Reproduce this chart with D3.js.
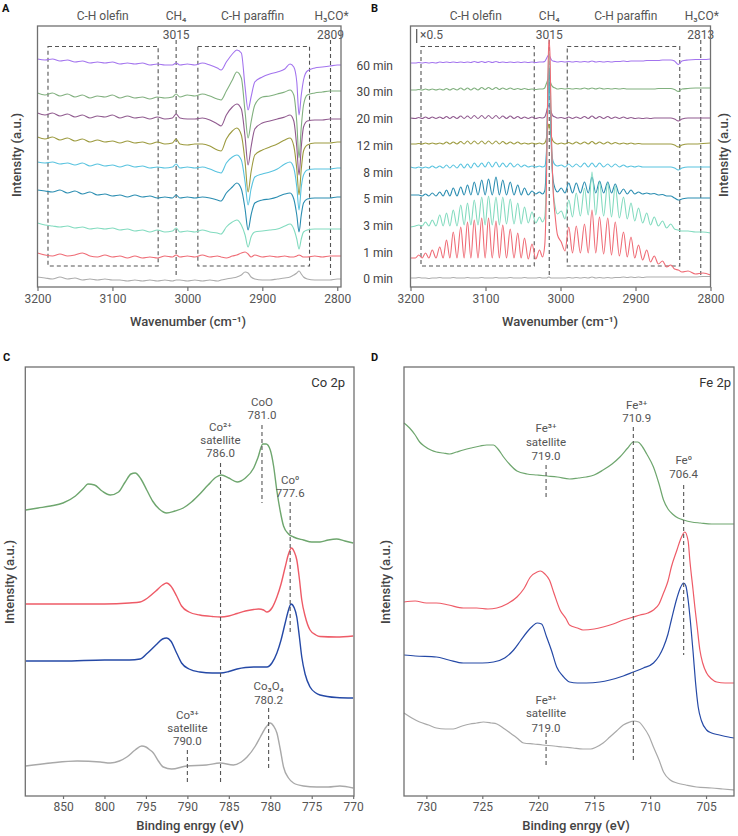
<!DOCTYPE html>
<html><head><meta charset="utf-8">
<script src="https://cdn.jsdelivr.net/npm/d3@7"></script>
<style>body{margin:0;background:#fff;} text{font-family:Roboto,"Noto Sans",sans-serif;}</style>
</head><body><svg id="c" width="738" height="836"></svg>
<script>
// ---------------- DATA ----------------
const timeLabels = ["60 min","30 min","20 min","12 min","8 min","5 min","3 min","1 min","0 min"];
const traceColors = ["#a374ee","#80b07e","#905a8f","#9c9a3e","#58c3df","#2a8db1","#82dbbf","#ef6b75","#acacac"];

// Panel A (difference spectra), wavenumber grid and intensities
const aWn = [3200,3190,3180,3170,3160,3150,3140,3130,3120,3110,3100,3090,3080,3070,3060,3050,3040,3030,3020,3015,3010,3000,2990,2980,2970,2960,2955,2948,2940,2934,2928,2923,2919,2915,2910,2900,2890,2880,2870,2863,2858,2854,2851,2848,2845,2840,2830,2820,2810,2800,2795];
const a60 = [228,227,228,226,227,225,226,224,225,224,225,223,224,223,224,222,223,222,222,224,222,223,222,224,222,219,217,225,233,237,234,200,177,190,205,210,213,215,218,223,220,205,172,192,207,216,219,220,221,222,222];
const a30 = [194,192,194,191,193,190,192,189,191,190,192,189,191,189,190,188,190,189,190,193,190,192,191,193,191,188,187,196,207,215,209,175,149,165,182,190,191,193,195,197,192,165,129,160,182,192,194,195,196,196,196];
const a20 = [174,172,174,171,173,170,172,169,171,170,172,169,171,169,170,168,170,168,169,173,169,168,168,169,167,163,161,172,180,183,178,150,122,140,158,164,166,168,170,172,166,140,112,140,160,166,167,167,168,168,168];
const a12 = [150,148,150,147,149,146,148,145,147,145,146,144,146,144,145,143,145,143,144,148,143,142,143,143,141,137,136,148,156,159,152,125,95,115,132,137,140,143,147,149,141,118,92,118,136,142,144,144,144,145,145];
const a8  = [125,124,125,123,124,122,124,121,123,121,122,120,122,120,121,119,120,119,120,123,119,120,119,120,118,115,114,124,130,132,127,105,82,98,110,113,115,118,123,125,119,100,77,100,112,117,118,118,118,119,119];
const a5  = [97,96,95,97,94,96,93,95,92,93,91,92,90,92,90,91,89,90,89,92,89,90,89,90,89,87,86,94,100,104,98,78,57,72,84,87,88,90,93,94,88,72,55,72,84,88,89,89,89,90,90];
const a3  = [64,62,61,60,61,59,60,58,59,58,59,57,58,56,57,55,57,55,56,59,55,56,55,57,55,54,53,60,65,67,62,52,40,50,55,56,57,58,61,63,58,48,38,48,55,57,58,58,58,58,58];
const a1  = [34,32,31,33,31,32,34,31,30,32,30,31,29,31,29,30,29,31,30,32,30,31,30,32,30,31,30,29,31,32,34,35,33,30,32,30,31,30,31,30,30,31,32,31,30,30,31,30,31,31,31];
const a0  = [10,9,8,10,8,9,7,8,7,8,7,7,6,7,6,7,6,7,6,7,7,6,7,6,7,6,7,8,9,10,12,15,14,10,8,7,7,8,9,10,12,14,16,13,10,8,7,7,7,8,8];

// Panel B (gas-phase spectra)
const bWn = [3200,3193.5,3189,3184.5,3180,3175.5,3171,3166,3161,3156.5,3152,3147.5,3143,3138,3133,3128.5,3124,3119.5,3115,3110,3105,3100.5,3096,3091,3086,3081.5,3077,3072,3067,3062,3057,3052.5,3048,3043,3038,3033,3028,3024,
 3021,3019,3017,3015.5,3014,3012,3010,3007,3004,
 2999,2994,2989,2984,2979,2973.5,2968,2963,2958,2953,2948,2942.5,2937,2932,2927,2921.5,2916,2911,2906,2901,2896,2890.5,2885,2880,2875,2869.5,2864,2858.5,2853,2848,
 2843,2838,2830,2820,2810,2800];
const b60 = [224,224,224.5,224,224.5,224,224.5,224,225,224.5,225,224.5,225,224.5,225,224.5,225,224.5,225.5,224.5,225.5,224.5,225.5,224.5,225.5,224.5,225,224.5,225,224.5,225,224.5,225,224.5,225,224.5,225,225,
 225.5,228,231,232,230,227,226,225.5,225,
 225.5,225,225.5,225,225.5,225,225.5,225,226,225,225.5,225,225.5,225,225.5,225.5,226,225.5,226,226,226,226,226.5,226.5,226.5,226.5,227,227,227,226,
 222.5,226,227,227.5,227.5,228];
const b30 = [197,197,197.5,197,198,197,198,197,198,197,198.5,197,198.5,197,199,197,199,197,199,197,199.5,197.5,199.5,197.5,199.5,197.5,199,197.5,199,197.5,198.5,197.5,198.5,197.5,198,197.5,198,198,
 199,203,207,208,206,202,200,199,198,
 198.5,198,198.5,198,198.5,198,199,198,199,198,199,198,198.5,198,198.5,198,198.5,198,198,198,198,198,198,198,198,198.5,198.5,198.5,198.5,197.5,
 195.5,198,198.5,199,199,199];
const b20 = [169,168.5,169.5,168.5,170,168.5,170,168.5,170,168.5,170.5,168.5,170.5,168.5,171,168.5,171,168.5,171.5,168.5,171.5,168.5,171.5,168.5,171.5,168.5,171,168.5,171,168.5,170.5,168.5,170,168.5,170,168.5,169.5,169,
 170,174,180,182,179,174,171,170,169,
 169.5,168.5,170,168.5,170,168.5,170.5,168.5,171,168.5,170.5,168.5,170.5,168.5,170,168.5,170,168.5,169.5,168.5,169,168.5,169,168.5,169,169,169,169,169,168,
 166,168,169,169,169,169];
const b12 = [143,143,143.5,143,144,143,144,143,144,143,145,143,145,143,145.5,143,146,143,146,143,146,143,146,143,146,143,145.5,143,145,143,145,143,144,143,144,143,144,143,
 144,148,158,163,158,150,146,144,143,
 144,143,144.5,143,145,143,145,143,145.5,143,145,143,145,143,144.5,143,144,143,144,143,143.5,143,143,143,143,143,143,143,143,142,
 140,142,143,143,143.5,144];
const b8 = [120,119,120,119,120,119,121,119,121,119,122,119,122,119,123,119,123,119,124,120,124,120,125,120,125,120,124,120,124,120,123,120,122,120,121,120,121,120,
 121,132,175,206,188,140,126,122,121,
 122,120,123,120,123,120,124,120,124,120,124,120,123,120,123,120,122,120,121,120,121,120,120,120,120,120,120,120,120,119,
 117,119,120,120,120,120];
const b5 = [92,92,92,91,93,91,94,91,95,91,97,91,99,91,100,92,102,92,105,92,107,92,108,92,110,92,107,92,105,92,102,92,99,92,96,93,95,93,
 96,122,190,222,202,135,108,98,95,
 99,94,104,94,104,94,105,94,110,94,106,94,105,94,103,93,98,93,97,93,95,93,94,93,93.5,92,92.5,91,91,89,
 87,88,89,89,89,89];
const b3 = [60,61,62,61,65,61,67,61,72,61,74,61,77,61,82,62,84,62,87,62,90,62,91,62,90,62,90,63,88,63,84,63,80,64,75,64,70,65,
 70,105,190,238,218,145,100,80,73,
 76,68,87,70,94,71,99,72,115,72,105,71,104,70,101,69,90,68,84,66,79,64,74,62,70,61,66,59,63,58,
 57,56,56,55,55,54];
const b1 = [29,29,32,29,34,29,37,29,40,29,47,29,55,29,60,29,65,29,67,29,69,29,69,29,66,29,62,29,58,29,54,29,49,28,43,28,37,30,
 42,90,200,248,232,150,100,70,52,
 45,36,60,34,61,34,63,34,77,34,70,33,69,32,65,31,55,30,50,29,42,27,37,25,31,23,26,20,22,18,
 17,15,16,13,14,12];
const b0 = [9,9,9.5,9,9,8.5,9,9,9.5,9,9,9,9.5,9,9,9,9.5,9,9,9,9.5,9,9,9,9.5,9,9,9,9.5,9,9,9,9.5,9,9,9,9.5,9,
 9,9,9.5,10,9.5,9,9,9,9,
 9,9,9.5,9,9.5,9,9.5,9,10,9,9.5,9,9.5,9,9.5,9.5,10,9.5,10,9.5,10,9.5,10,10,10,10,10,10,10,10,
 10,10,10,10,10.5,10.5];

const irTicks = [3200,3100,3000,2900,2800];
const aGuides = [{wn:3015,label:"3015"},{wn:2809,label:"2809"}];
const bGuides = [{wn:3015,label:"3015"},{wn:2813,label:"2813"}];
const aBoxes = [[3186,3039],[2986,2837]];
const bBoxes = [[3186,3035],[2991,2841]];

// Panel C (Co 2p XPS)
const cTickValues = [805,800,795,790,785,780,775,770];
const cTickLabels = ["850","800","795","790","785","780","775","770"];
const cGreen = [[809.5,286],[808,288],[806.5,290],[805,293],[803.5,300],[802.5,308],[802,312],[801.2,311],[800.3,305],[799.3,301],[798.3,304],[797.5,314],[796.8,322],[796.3,323],[795.6,317],[794.9,306],[794.2,295],[793.4,287],[792.5,283],[791.5,285],[790.5,288],[789.5,294],[788.5,302],[787.5,311],[786.5,319],[785.9,321],[785,318],[784,314],[783,318],[782,328],[781.5,338],[780.9,352],[780.5,352],[780,346],[779.6,330],[779.2,305],[778.8,285],[778.4,270],[777.8,262],[777.2,259],[776,256],[775,254],[774,254],[773,256],[772,257],[771,255],[770,253]];
const cRed = [[809.5,192],[805,192],[800,192],[797,193],[795.7,194],[794.8,198],[793.8,205],[793,211],[792.5,213],[792,210],[791.3,200],[790.7,190],[789.8,184],[788.5,181],[787,179.5],[786,179],[785,180],[784,182.5],[783,185],[782,186.5],[781.4,187],[780.8,186],[780.4,184],[779.8,188],[779.2,199],[778.7,212],[778.2,229],[777.8,242],[777.45,248],[777.1,244],[776.8,236],[776.5,218],[776.2,196],[775.8,180],[775.2,166],[774.5,161],[774,159.5],[772,159],[770,160]];
const cBlue = [[809.5,135],[805,135],[800,136],[797,136],[795.7,137],[794.8,143],[793.8,151],[793,157],[792.5,158],[792,155],[791.3,143],[790.7,133],[789.8,127],[788.5,124],[787,123],[786,123],[785,124.5],[784,127],[783,128.5],[782,129],[781,129],[780.4,129],[779.8,133],[779.2,143],[778.7,156],[778.2,173],[777.8,186],[777.5,192],[777.1,188],[776.8,179],[776.5,160],[776.2,139],[775.8,122],[775.2,109],[774.5,103],[774,101],[772,98.5],[770,98]];
const cGray = [[809.5,30],[806.5,33],[803.3,35],[800.5,34],[799.3,33],[798.2,35],[797.3,39],[796.3,46],[795.5,50],[795,49],[794.5,46],[794.1,43],[793.5,35],[792.9,29],[791.9,27],[790.1,30],[787.7,31],[786.05,33],[784.45,31],[783.5,34],[782.8,39],[781.8,50],[781.2,59],[780.5,69],[780,73],[779.6,70],[779.2,63],[778.8,47],[778.4,29],[777.8,18],[777.2,13],[776,10],[774.4,9],[773,9],[771.6,10],[770,8]];

// Panel D (Fe 2p XPS)
const dTickValues = [730,725,720,715,710,705];
const dGreen = [[732,373],[731.5,368],[731,361],[730.6,354],[730.2,350],[729.6,346],[729.1,344],[728.5,343],[727.9,342],[727.3,344],[726.7,346],[726,348],[725.2,350],[724.6,351],[724,351],[723.6,347],[723.1,339],[722.5,331],[721.9,325],[721,322],[720.1,321],[719.2,320],[718.3,319],[717.2,317],[716.4,318],[715.7,319],[715,321],[714.2,326],[713.4,332],[712.7,339],[712,348],[711.5,354],[711.1,354],[710.8,351],[710.3,342],[709.7,329],[709.2,312],[708.8,296],[708.4,287],[708,282],[707.5,278],[707,276],[706.3,274],[705.5,273],[704.5,272],[703.5,272],[702.5,272]];
const dRed = [[732,194],[731,195],[730,193],[729.1,193],[728,191],[726.7,188],[725.5,188],[724.5,187],[723.7,188],[722.8,192],[721.9,199],[721.3,207],[720.7,219],[720.1,224],[719.8,225],[719.4,222],[719,216],[718.6,203],[718.05,186],[717.5,177],[717.2,171],[716.5,168],[716,166],[715,167],[714.2,169],[713.3,172],[712.4,176],[711.5,179],[710.9,181],[710.2,183],[709.7,186],[709.2,192],[708.8,203],[708.4,215],[708.1,229],[707.6,246],[707.3,256],[706.9,264],[706.6,255],[706.45,236],[706.15,205],[706,189],[705.8,170],[705.55,146],[705.3,133],[704.95,123],[704.5,117],[704.05,114],[703.3,113],[702.5,113]];
const dBlue = [[732,141],[731,140],[729.1,139],[728,136],[726.7,133],[725,133],[724,134],[723,138],[722.2,146],[721.6,155],[721,164],[720.5,170],[720.1,173],[719.7,172],[719.25,159],[718.8,145],[718.35,129],[717.8,120],[717.2,114],[716.5,113],[715.7,113],[714.5,114],[713.6,116],[712.4,120],[711.5,124],[710.6,128],[709.7,133],[709.2,140],[708.8,149],[708.4,162],[708.1,176],[707.6,198],[707.3,208],[707,213],[706.8,210],[706.6,196],[706.4,175],[706.15,143],[705.95,115],[705.7,89],[705.4,75],[704.95,66],[704.5,63],[703.8,61],[703,59],[702.5,58]];
const dGray = [[732,83],[731.3,78],[730.6,74],[729.8,71],[729.1,68],[728.3,67],[727.6,67],[726.8,70],[726.1,72],[725.5,73],[724.9,74],[724.2,73],[723.7,72],[723,67],[722.5,63],[721.9,58],[721.3,53],[720.4,52],[719.6,51],[718.6,50],[717.8,49],[716.9,48],[716,47],[715.3,47],[714.8,49],[714.2,53],[713.6,59],[713,65],[712.4,71],[711.8,74],[711.5,75],[711,74],[710.6,69],[710.1,60],[709.7,49],[709.2,36],[708.8,24],[708.2,16],[707.6,13],[706.8,11],[705.85,9],[704.5,8],[703.5,7],[702.5,6]];

const xpsColors = {green:"#6ea66e", red:"#ee5b67", blue:"#2549a6", gray:"#a9a9a9"};

// ---------------- DRAWING ----------------
const svg = d3.select("#c");
const FRAME = "#707070", GUIDE = "#555", TXT = "#555";

function rich(g, x, y, parts, o = {}) {
  const size = o.size || 11.5;
  const t = g.append("text").attr("x", x).attr("y", y)
    .attr("text-anchor", o.anchor || "middle").attr("font-size", size)
    .attr("fill", o.fill || TXT).attr("font-weight", o.weight || 400);
  let shift = 0;
  parts.forEach(p => {
    const [s, kind] = Array.isArray(p) ? p : [p, "n"];
    const target = kind === "sup" ? -0.38 * size : kind === "sub" ? 0.28 * size : 0;
    const ts = t.append("tspan").text(s).attr("dy", target - shift);
    if (kind !== "n") ts.attr("font-size", size * 0.62);
    shift = target;
  });
  if (o.rotate) t.attr("transform", `rotate(-90,${x},${y})`);
  return t;
}

function frame(g, x, y) {
  const [x0, x1] = x.range(), [y0, y1] = y.range();
  g.append("rect").attr("x", x0).attr("y", y1).attr("width", x1 - x0).attr("height", y0 - y1)
    .attr("fill", "none").attr("stroke", FRAME).attr("stroke-width", 1.3);
}

function bottomAxis(g, x, y, values, fmt, tickSize) {
  const ax = g.append("g").attr("transform", `translate(0,${y.range()[0]})`)
    .call(d3.axisBottom(x).tickValues(values).tickFormat(fmt).tickSize(tickSize).tickPadding(3));
  ax.select(".domain").remove();
  ax.selectAll("line").attr("stroke", FRAME).attr("stroke-width", 1.2);
  ax.selectAll("text").attr("font-size", 12).attr("fill", TXT).attr("font-family", "Roboto, 'Noto Sans', sans-serif");
}

function drawLine(g, x, y, pts, color, w) {
  const line = d3.line().x(d => x(d[0])).y(d => y(d[1])).curve(d3.curveMonotoneX);
  g.append("path").datum(pts).attr("d", line).attr("fill", "none")
    .attr("stroke", color).attr("stroke-width", w).attr("stroke-linejoin", "round");
}

function vGuide(g, x, y, v, top, bot) {
  g.append("line").attr("x1", x(v)).attr("x2", x(v)).attr("y1", top).attr("y2", bot)
    .attr("stroke", GUIDE).attr("stroke-width", 1.1).attr("stroke-dasharray", "4,3");
}

// ---------- Panels A & B ----------
const aSeries = [a60, a30, a20, a12, a8, a5, a3, a1, a0];
const bSeries = [b60, b30, b20, b12, b8, b5, b3, b1, b0];

function irPanel(xr, wnDomain, grid, series, boxes, guides, letter, letterX, titleX, yTitleX, scale05) {
  const g = svg.append("g");
  const x = d3.scaleLinear().domain(wnDomain).range(xr);
  const y = d3.scaleLinear().domain([0, 261]).range([287, 26]);
  boxes.forEach(([w0, w1]) => {
    g.append("rect").attr("x", x(w0)).attr("y", 46.5).attr("width", x(w1) - x(w0)).attr("height", 266 - 46.5)
      .attr("fill", "none").attr("stroke", GUIDE).attr("stroke-width", 1.1).attr("stroke-dasharray", "4,3");
  });
  guides.forEach(gd => {
    vGuide(g, x, y, gd.wn, 40, 275);
    g.append("text").attr("x", x(gd.wn)).attr("y", 38.5).attr("text-anchor", "middle")
      .attr("font-size", 12).attr("fill", TXT).text(gd.label);
  });
  series.forEach((s, i) => {
    drawLine(g, x, y, grid.map((w, k) => [w, s[k]]), traceColors[i], 1.1);
  });
  frame(g, x, y);
  bottomAxis(g, x, y, irTicks, d3.format("d"), 4);
  rich(g, x(3113), 20, ["C-H olefin"], {size: 12});
  rich(g, x(3015), 20, ["CH₄"], {size: 12});
  rich(g, x(2913), 20, ["C-H paraffin"], {size: 12});
  rich(g, x(guides[1].wn) + 1, 20, ["H₃CO*"], {size: 12});
  rich(g, titleX, 326, ["Wavenumber (cm⁻¹)"], {size: 13, fill: "#444", weight: 500});
  rich(g, yTitleX, 155, ["Intensity (a.u.)"], {size: 13, fill: "#444", rotate: true, weight: 500});
  g.append("text").attr("x", letterX).attr("y", 12).attr("font-size", 11).attr("font-weight", 700).attr("fill", "#111").text(letter);
  if (scale05) {
    g.append("line").attr("x1", 416.7).attr("x2", 416.7).attr("y1", 29).attr("y2", 43).attr("stroke", "#555").attr("stroke-width", 1.2);
    g.append("text").attr("x", 420).attr("y", 39).attr("font-size", 12).attr("fill", TXT).text("×0.5");
  }
  return {x, y};
}

irPanel([37.5, 341], [3200, 2795], aWn, aSeries, aBoxes, aGuides, "A", 2, 188, 21, false);
irPanel([410.5, 710.5], [3200, 2800], bWn, bSeries, bBoxes, bGuides, "B", 371, 560, 728, true);

const tY = [66, 92, 119, 146, 173, 199, 226, 253, 279];
timeLabels.forEach((t, i) => {
  svg.append("text").attr("x", 393).attr("y", tY[i] + 4).attr("text-anchor", "end")
    .attr("font-size", 12).attr("fill", "#444").text(t);
});

// ---------- Panel C ----------
(function () {
  const g = svg.append("g");
  const x = d3.scaleLinear().domain([809.55, 769.9]).range([25.3, 354]);
  const y = d3.scaleLinear().domain([0, 429]).range([796, 367]);
  [[cGreen, xpsColors.green], [cRed, xpsColors.red], [cBlue, xpsColors.blue], [cGray, xpsColors.gray]]
    .forEach(([d, c]) => drawLine(g, x, y, d, c, 1.4));
  vGuide(g, x, y, 786.0, 463, 782);
  rich(g, x(786.0), 431, ["Co²⁺"]);
  rich(g, x(786.0), 444, ["satellite"]);
  rich(g, x(786.0), 457, ["786.0"]);
  vGuide(g, x, y, 781.0, 425, 503);
  rich(g, x(781.0), 406, ["CoO"]);
  rich(g, x(781.0), 419, ["781.0"]);
  vGuide(g, x, y, 777.6, 502, 632);
  rich(g, x(777.6), 484, ["Co⁰"]);
  rich(g, x(777.6), 497, ["777.6"]);
  vGuide(g, x, y, 790.0, 750, 783);
  rich(g, x(790.0), 719, ["Co³⁺"]);
  rich(g, x(790.0), 732, ["satellite"]);
  rich(g, x(790.0), 745, ["790.0"]);
  vGuide(g, x, y, 780.2, 708, 770);
  rich(g, x(780.2), 690, ["Co₃O₄"]);
  rich(g, x(780.2), 704, ["780.2"]);
  rich(g, 345, 387, ["Co 2p"], {size: 13, anchor: "end", fill: "#333"});
  frame(g, x, y);
  bottomAxis(g, x, y, cTickValues, (d, i) => cTickLabels[i], 3);
  rich(g, 190, 830, ["Binding enrgy (eV)"], {size: 13, fill: "#444", weight: 500});
  rich(g, 14, 582, ["Intensity (a.u.)"], {size: 13, fill: "#444", rotate: true, weight: 500});
  g.append("text").attr("x", 3).attr("y", 361).attr("font-size", 11).attr("font-weight", 700).attr("fill", "#111").text("C");
})();

// ---------- Panel D ----------
(function () {
  const g = svg.append("g");
  const x = d3.scaleLinear().domain([732, 702.5]).range([404, 734]);
  const y = d3.scaleLinear().domain([0, 429]).range([796, 367]);
  [[dGreen, xpsColors.green], [dRed, xpsColors.red], [dBlue, xpsColors.blue], [dGray, xpsColors.gray]]
    .forEach(([d, c]) => drawLine(g, x, y, d, c, 1.2));
  vGuide(g, x, y, 719.3, 465, 497);
  rich(g, x(719.3), 432, ["Fe³⁺"]);
  rich(g, x(719.3), 446, ["satellite"]);
  rich(g, x(719.3), 460, ["719.0"]);
  vGuide(g, x, y, 711.5, 427, 762);
  rich(g, x(711.2), 409, ["Fe³⁺"]);
  rich(g, x(711.2), 422, ["710.9"]);
  vGuide(g, x, y, 707.0, 485, 655);
  rich(g, x(707.0), 464, ["Fe⁰"]);
  rich(g, x(707.0), 478, ["706.4"]);
  vGuide(g, x, y, 719.3, 733, 767);
  rich(g, x(719.3), 704, ["Fe³⁺"]);
  rich(g, x(719.3), 717, ["satellite"]);
  rich(g, x(719.3), 732, ["719.0"]);
  rich(g, 731, 387, ["Fe 2p"], {size: 13, anchor: "end", fill: "#333"});
  frame(g, x, y);
  bottomAxis(g, x, y, dTickValues, d3.format("d"), 3);
  rich(g, 576, 830, ["Binding enrgy (eV)"], {size: 13, fill: "#444", weight: 500});
  rich(g, 390, 582, ["Intensity (a.u.)"], {size: 13, fill: "#444", rotate: true, weight: 500});
  g.append("text").attr("x", 371).attr("y", 361).attr("font-size", 11).attr("font-weight", 700).attr("fill", "#111").text("D");
})();
</script></body></html>
